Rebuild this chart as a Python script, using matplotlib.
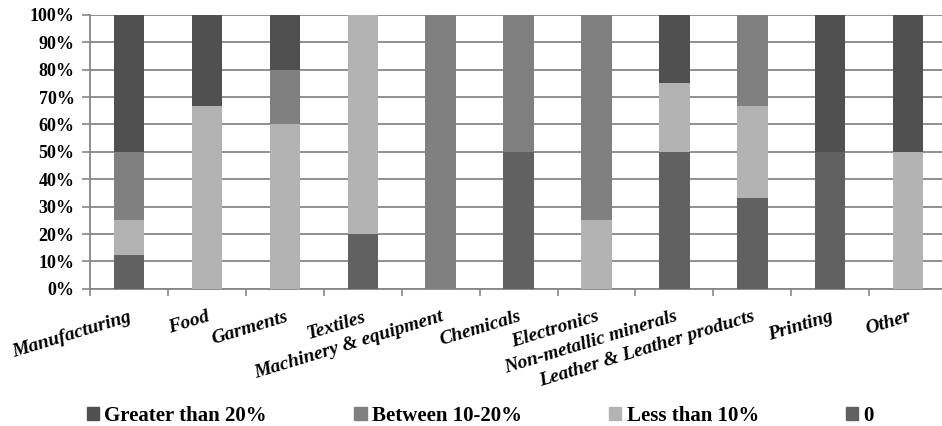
import matplotlib
matplotlib.use('Agg')
import matplotlib.pyplot as plt
from matplotlib.patches import Patch
import numpy as np

# Share of firms (%) per sector, stacked from the bottom
sectors = ['Manufacturing', 'Food', 'Garments', 'Textiles', 'Machinery & equipment',
           'Chemicals', 'Electronics', 'Non-metallic minerals',
           'Leather & Leather products', 'Printing', 'Other']
zero      = [12.5, 0, 0, 20, 0, 50, 0, 50, 33.3, 50, 0]
less10    = [12.5, 66.7, 60, 80, 0, 0, 25, 25, 33.3, 0, 50]
btw10_20  = [25, 0, 20, 0, 100, 50, 75, 0, 33.4, 0, 0]
greater20 = [50, 33.3, 20, 0, 0, 0, 0, 25, 0, 50, 50]

series = [('0', zero, '#616161'),
          ('Less than 10%', less10, '#b3b3b3'),
          ('Between 10-20%', btw10_20, '#808080'),
          ('Greater than 20%', greater20, '#505050')]

plt.rcParams['font.family'] = ['Liberation Serif', 'DejaVu Serif']

fig = plt.figure(figsize=(9.42, 4.26), dpi=100)
ax = fig.add_axes([0.0955, 0.322, 0.91, 0.643])  # left, bottom, width, height

x = np.arange(len(sectors))
bottom = np.zeros(len(sectors))
for name, vals, col in series:
    vals = np.array(vals, dtype=float)
    ax.bar(x, vals, 0.39, bottom=bottom, color=col, zorder=3, label=name)
    bottom += vals

ax.set_xlim(-0.5, len(sectors) - 0.5)
ax.set_ylim(0, 100)
ax.set_yticks(np.arange(0, 101, 10))
ax.set_yticklabels([str(v) + '%' for v in range(0, 101, 10)], fontsize=13, fontweight='bold')
ax.yaxis.grid(True, color='#878787', linewidth=1.3, zorder=0)

ax.set_xticks(x)
ax.set_xticklabels(sectors, rotation=17, ha='right', rotation_mode='anchor',
                   fontsize=14, fontstyle='italic', fontweight='bold')
ax.tick_params(axis='x', length=0, pad=14)
ax.set_xticks(np.arange(-0.5, len(sectors), 1), minor=True)
ax.tick_params(axis='x', which='minor', length=5, width=1.2, color='#878787', direction='out')
ax.tick_params(axis='y', length=6, width=1.2, color='#878787', direction='out', pad=5)

for s in ['top', 'right']:
    ax.spines[s].set_visible(False)
for s in ['left', 'bottom']:
    ax.spines[s].set_color('#878787')
    ax.spines[s].set_linewidth(1.3)

# legend in reverse stacking order
handles = [Patch(color=c, label=n) for n, v, c in series[::-1]]
fig.legend(handles=handles, loc='center left', bbox_to_anchor=(0.0924, 0.024), ncol=4,
           frameon=False, borderpad=0, borderaxespad=0,
           handlelength=0.58, handleheight=0.58, handletextpad=0.25,
           columnspacing=4.2, prop={'weight': 'bold', 'size': 15})

plt.savefig('out.png', dpi=100)
